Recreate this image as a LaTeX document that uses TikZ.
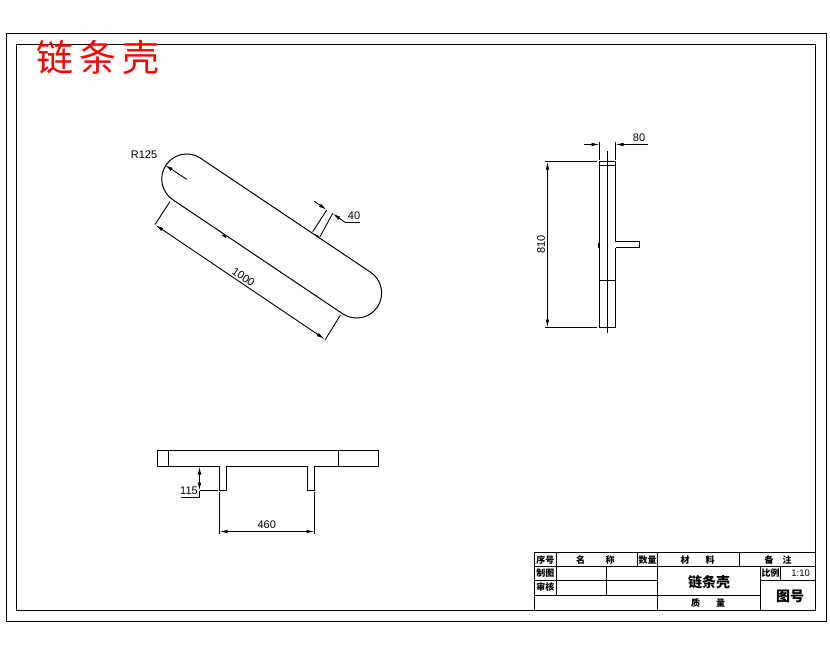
\documentclass[tikz,border=0pt]{standalone}
\usepackage{fontspec}
\setmainfont{Liberation Sans}
\newfontfamily\cjk{Noto Sans CJK SC}
\usetikzlibrary{arrows.meta}
\tikzset{
    part/.style={line width=1pt, black},
    dimline/.style={line width=0.9pt, black},
    dimtip/.style={dimline, -{Latex[length=8pt, width=3.6pt]}},
    dimboth/.style={dimline, {Latex[length=8pt, width=3.6pt]}-{Latex[length=8pt, width=3.6pt]}},
    dimtext/.style={font=\fontsize{11}{11}\selectfont, inner sep=0pt},
    cell/.style={font=\cjk\bfseries\fontsize{9}{9}\selectfont, inner sep=0pt},
    bigcell/.style={font=\cjk\bfseries\fontsize{14}{14}\selectfont, inner sep=0pt}
}
\begin{document}
\begin{tikzpicture}[x=1pt, y=-1pt]
    \useasboundingbox (0, 0) rectangle (830, 654);
    \fill[white] (0, 0) rectangle (830, 654);

    % frames
    \draw[line width=1pt] (6.5, 33.5) rectangle (826.5, 621.5);
    \draw[line width=1pt] (16.5, 44.5) rectangle (815.5, 610.5);
    \node (title) [red, inner sep=0pt, font=\cjk\fontsize{37}{37}\selectfont] at (98, 57) {链\hspace{6pt}条\hspace{6pt}壳};

    % tilted plate
    \draw[part] (200.5, 158.2) -- (370.5, 272.2) arc[start angle=-56.4, end angle=123.6, radius=25]
        -- (172.9, 199.8) arc[start angle=123.6, end angle=303.6, radius=25] -- cycle;
    \draw[dimline, line width=1.6pt] (222.5, 234.8) -- (226, 237.2);
    \draw[dimtip] (186.7, 179.3) -- (165, 165);
    \node (radius) [dimtext] at (144, 155) {R125};

    \draw[dimline] (170, 201.5) -- (155, 224.5);
    \draw[dimline] (340.5, 315) -- (325, 340);
    \draw[dimboth] (155.5, 225) -- (324.5, 339);
    \node (length) [dimtext, rotate=-34] at (243.5, 277) {1000};

    \draw[dimline] (312.7, 231.7) -- (326.7, 210);
    \draw[dimline] (320, 236.7) -- (332.7, 213.3);
    \draw[dimline] (314.5, 234.5) -- (319, 236.5);
    \draw[dimtip] (314.3, 201.3) -- (326.7, 209.8);
    \draw[dimtip] (345, 222.3) -- (332.7, 213.5);
    \draw[dimline] (345, 222.3) -- (360, 222.3);
    \node (thick) [dimtext] at (354, 216) {40};

    % side view
    \draw[part] (615.5, 241.5) -- (615.5, 161.5) -- (599.5, 161.5) -- (599.5, 327.5) -- (615.5, 327.5) -- (615.5, 247.5);
    \draw[part] (615.5, 241.5) -- (639.5, 241.5) -- (639.5, 247.5) -- (615.5, 247.5);
    \draw[part] (599.5, 165.5) -- (615.5, 165.5);
    \draw[part] (599.5, 280.5) -- (615.5, 280.5);
    \draw[part] (607.5, 151) -- (607.5, 332.7);
    \draw[dimline, line width=1.6pt] (598.8, 243) -- (598.8, 247.5);

    \draw[dimline] (545.3, 161.5) -- (597.3, 161.5);
    \draw[dimline] (545.3, 327.5) -- (597.3, 327.5);
    \draw[dimboth] (547.5, 161.5) -- (547.5, 327.5);
    \node (height) [dimtext, rotate=90] at (541, 244.3) {810};

    \draw[dimline] (599.5, 142) -- (599.5, 160);
    \draw[dimline] (615.5, 142) -- (615.5, 160);
    \draw[dimtip] (584, 144.5) -- (599.5, 144.5);
    \draw[dimtip] (632, 144.5) -- (615.5, 144.5);
    \draw[dimline] (632, 144.5) -- (648, 144.5);
    \node (width) [dimtext] at (639, 138) {80};

    % bottom view
    \draw[part] (157.5, 450.5) rectangle (378.5, 466.5);
    \draw[part] (168.5, 450.5) -- (168.5, 466.5);
    \draw[part] (338.5, 450.5) -- (338.5, 466.5);
    \draw[part] (219.5, 466.5) -- (219.5, 490.5) -- (226.5, 490.5) -- (226.5, 466.5);
    \draw[part] (307.5, 466.5) -- (307.5, 490.5) -- (314.5, 490.5) -- (314.5, 466.5);
    \draw[white, line width=1.2pt] (220.1, 466.5) -- (225.9, 466.5);
    \draw[white, line width=1.2pt] (308.1, 466.5) -- (313.9, 466.5);

    \draw[dimboth] (199.5, 466.5) -- (199.5, 490.5);
    \draw[dimline] (199.5, 490.5) -- (199.5, 497.5) -- (180.7, 497.5);
    \draw[dimline] (199.5, 490.5) -- (218.3, 490.5);
    \node (stub) [dimtext] at (189, 491) {115};

    \draw[dimline] (219.5, 492.3) -- (219.5, 534);
    \draw[dimline] (314.5, 492.3) -- (314.5, 534);
    \draw[dimboth] (219.5, 531.5) -- (314.5, 531.5);
    \node (gap) [dimtext] at (266.7, 524.3) {460};

    % title block
    \draw[part] (534.5, 610.5) -- (534.5, 552.5) -- (815.5, 552.5);
    \draw[part] (534.5, 566.5) -- (815.5, 566.5);
    \draw[part] (534.5, 580.5) -- (657.5, 580.5);
    \draw[part] (760.5, 580.5) -- (815.5, 580.5);
    \draw[part] (534.5, 595.5) -- (760.5, 595.5);
    \draw[part] (556.5, 552.5) -- (556.5, 595.5);
    \draw[part] (606.5, 566.5) -- (606.5, 595.5);
    \draw[part] (637.5, 552.5) -- (637.5, 566.5);
    \draw[part] (657.5, 552.5) -- (657.5, 610.5);
    \draw[part] (739.5, 552.5) -- (739.5, 566.5);
    \draw[part] (760.5, 566.5) -- (760.5, 610.5);
    \draw[part] (780.5, 566.5) -- (780.5, 580.5);

    \node (serial) [cell] at (545.3, 559.7) {序号};
    \node (name1) [cell] at (580.7, 559.7) {名};
    \node (name2) [cell] at (610, 559.7) {称};
    \node (count) [cell] at (647.7, 559.7) {数量};
    \node (mat1) [cell] at (685, 559.7) {材};
    \node (mat2) [cell] at (710, 559.7) {料};
    \node (note1) [cell] at (769, 559.7) {备};
    \node (note2) [cell] at (787, 559.7) {注};
    \node (drawn) [cell] at (545.3, 573.3) {制图};
    \node (check) [cell] at (545.3, 587.3) {审核};
    \node (ratio) [cell] at (770.5, 573.3) {比例};
    \node (scale) [dimtext, font=\fontsize{9.5}{9.5}\selectfont] at (800.7, 573.3) {1:10};
    \node (part) [bigcell] at (709, 582) {链条壳};
    \node (mass1) [cell] at (695.7, 603) {质};
    \node (mass2) [cell] at (720.7, 603) {量};
    \node (number) [bigcell] at (790, 596) {图号};
\end{tikzpicture}
\end{document}
